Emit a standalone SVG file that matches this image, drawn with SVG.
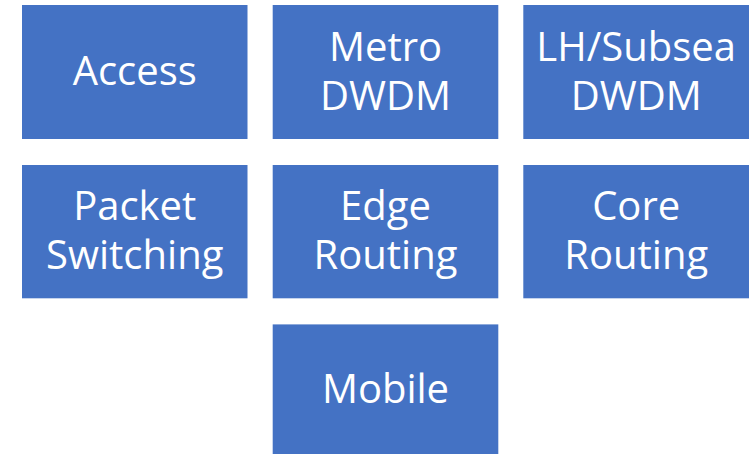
<svg xmlns="http://www.w3.org/2000/svg" width="756" height="454" viewBox="0 0 756 454">
<style>
.box{fill:#4472C4;}
.t{font-family:"Open Sans","Noto Sans","Liberation Sans",sans-serif;font-size:40px;fill:#ffffff;text-anchor:middle;}
</style>
<rect width="756" height="454" fill="#ffffff"/>
<g id="connectors"></g>
<g id="access"><rect class="box" x="22" y="5" width="225.5" height="134"/><text class="t" x="134.75" y="85">Access</text></g>
<g id="metro-dwdm"><rect class="box" x="272.7" y="5" width="225.6" height="134"/><text class="t" x="385.5" y="60.5">Metro</text><text class="t" x="385.5" y="109.5">DWDM</text></g>
<g id="lh-subsea-dwdm"><rect class="box" x="523.3" y="5" width="225.7" height="134"/><text class="t" x="636.2" y="60.5">LH/Subsea</text><text class="t" x="636.2" y="109.5">DWDM</text></g>
<g id="packet-switching"><rect class="box" x="22" y="165" width="225.5" height="133.3"/><text class="t" x="134.75" y="220">Packet</text><text class="t" x="134.75" y="269">Switching</text></g>
<g id="edge-routing"><rect class="box" x="272.7" y="165" width="225.6" height="133.3"/><text class="t" x="385.5" y="220">Edge</text><text class="t" x="385.5" y="269">Routing</text></g>
<g id="core-routing"><rect class="box" x="523.3" y="165" width="225.7" height="133.3"/><text class="t" x="636.2" y="220">Core</text><text class="t" x="636.2" y="269">Routing</text></g>
<g id="mobile"><rect class="box" x="272.7" y="324.4" width="225.6" height="133.6"/><text class="t" x="385.5" y="403.3">Mobile</text></g>
</svg>
